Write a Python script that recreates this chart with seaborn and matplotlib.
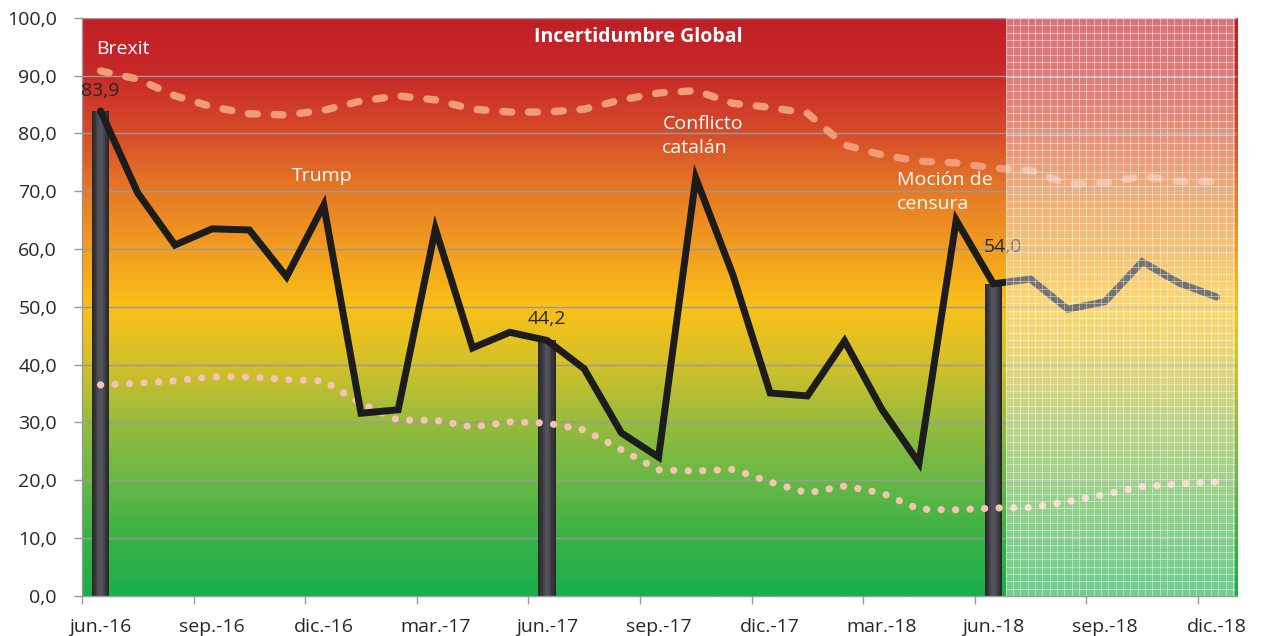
import numpy as np
import seaborn as sns
import matplotlib.pyplot as plt
from matplotlib.colors import LinearSegmentedColormap
from matplotlib.patches import Rectangle
from matplotlib.ticker import FuncFormatter

# Datos (lectura aproximada del gráfico original)
meses = ["jun.-16", "jul.-16", "ago.-16", "sep.-16", "oct.-16", "nov.-16", "dic.-16",
         "ene.-17", "feb.-17", "mar.-17", "abr.-17", "may.-17", "jun.-17", "jul.-17",
         "ago.-17", "sep.-17", "oct.-17", "nov.-17", "dic.-17", "ene.-18", "feb.-18",
         "mar.-18", "abr.-18", "may.-18", "jun.-18", "jul.-18", "ago.-18", "sep.-18",
         "oct.-18", "nov.-18", "dic.-18"]
incertidumbre = [83.9, 69.7, 60.7, 63.5, 63.3, 55.2, 67.6, 31.6, 32.2, 63.5, 42.9,
                 45.6, 44.2, 39.3, 28.2, 24.0, 72.3, 55.5, 35.1, 34.6, 44.1, 32.3,
                 23.0, 65.0, 54.0, 54.8, 49.6, 50.9, 57.8, 54.1, 51.7]
banda_alta = [90.8, 89.4, 86.5, 84.6, 83.4, 83.2, 84.0, 85.6, 86.5, 85.8, 84.2,
              83.7, 83.7, 84.2, 85.8, 87.0, 87.4, 85.2, 84.5, 83.5, 78.0, 76.3,
              75.2, 74.9, 74.0, 73.6, 71.2, 71.4, 72.6, 71.7, 71.7]
banda_baja = [36.5, 36.8, 37.2, 37.9, 37.9, 37.4, 37.2, 33.3, 30.4, 30.4, 29.2,
              30.1, 29.9, 28.7, 25.3, 21.8, 21.6, 21.9, 19.7, 17.8, 19.0, 17.8,
              15.0, 14.9, 15.2, 15.3, 16.3, 17.6, 18.9, 19.4, 19.7]
barras_mes = ["jun.-16", "jun.-17", "jun.-18"]
barras_valor = [83.9, 44.2, 54.0]
eventos = ["Brexit", "Trump", "Conflicto\ncatalán", "Moción de\ncensura"]

sns.set_theme(style="white")
plt.rcParams["font.family"] = ["Open Sans", "DejaVu Sans"]

x = np.arange(len(meses)) + 0.5
pos = {m: i + 0.5 for i, m in enumerate(meses)}
fmt = lambda v: f"{v:.1f}".replace(".", ",")

fig = plt.figure(figsize=(12.61, 6.36), dpi=100)
ax = fig.add_axes([0.065, 0.063, 0.916, 0.909])
xmax = len(meses) + 0.05

# fondo degradado verde -> amarillo -> rojo
cmap = LinearSegmentedColormap.from_list("semaforo", [
    (0.0, "#1aae4b"), (0.1, "#3ab246"), (0.2, "#68b845"), (0.3, "#98bb3c"),
    (0.4, "#d4c02a"), (0.5, "#fac018"), (0.6, "#f19d20"), (0.7, "#e67a26"),
    (0.8, "#d74c2a"), (0.9, "#c72a28"), (1.0, "#c11e26")])
ax.imshow(np.linspace(0, 1, 256).reshape(-1, 1), cmap=cmap, origin="lower",
          extent=[0, xmax, 0, 100], aspect="auto", zorder=0)

for v in range(10, 101, 10):
    ax.axhline(v, color="#9a9a9a", lw=1, zorder=1)

# barras tipo cilindro
bx = [pos[m] for m in barras_mes]
for w, c in [(0.46, "#2a2a2a"), (0.36, "#35353a"), (0.24, "#44444c"), (0.12, "#52525b")]:
    ax.bar(bx, barras_valor, width=w, color=c, zorder=2, linewidth=0)

sns.lineplot(x=x, y=banda_alta, ax=ax, color="#ef9c77", lw=5.3,
             linestyle=(0, (1.2, 2.3)), dash_capstyle="round", zorder=3)
sns.lineplot(x=x, y=banda_baja, ax=ax, color="#f6c4b4", lw=5.2,
             linestyle=(0, (0.01, 2.0)), dash_capstyle="round", zorder=3)
sns.lineplot(x=x, y=incertidumbre, ax=ax, color="#1c1c1c", lw=5,
             solid_joinstyle="miter", solid_capstyle="round", zorder=3)

offs = [(0, 8), (0, 9), (7, 20)]
for bxi, v, o in zip(bx, barras_valor, offs):
    ax.annotate(fmt(v), (bxi, v), xytext=o, textcoords="offset points",
                ha="center", va="bottom", fontsize=14, color="#262626", zorder=4)

# zona de previsión sombreada con rejilla
ax.add_patch(Rectangle((24.83, 0), len(meses) - 24.83, 100, facecolor="white",
                       alpha=0.38, lw=0, zorder=5))
ax.vlines(np.arange(24.83, len(meses), 0.197), 0, 100, color="white", lw=0.7,
          alpha=0.45, zorder=5)
ax.hlines(np.arange(0, 100, 1.265), 24.83, len(meses), color="white", lw=0.7,
          alpha=0.45, zorder=5)

# etiquetas de eventos
ev_xy = [(0.38, 94.6), (5.65, 72.6), (15.6, 79.6), (21.9, 69.9)]
for txt, (ex, ey) in zip(eventos, ev_xy):
    ax.text(ex, ey, txt, color="white", fontsize=14, ha="left", va="center",
            linespacing=1.45, zorder=6)
ax.text(14.95, 96.6, "Incertidumbre Global", color="white", fontsize=14,
        fontweight="bold", ha="center", va="center", zorder=6)

ax.set_xlim(0, xmax)
ax.set_ylim(0, 100)
ax.set_yticks(range(0, 101, 10))
ax.yaxis.set_major_formatter(FuncFormatter(lambda v, p: fmt(v)))
ax.set_xticks(x[::3])
ax.set_xticklabels(meses[::3])
ax.set_xticks(np.arange(0, len(meses), 3), minor=True)
ax.tick_params(axis="x", which="major", length=0, pad=16, labelsize=14, labelcolor="#262626")
ax.tick_params(axis="x", which="minor", length=6, color="#9a9a9a", width=1, bottom=True)
ax.tick_params(axis="y", length=6, color="#9a9a9a", width=1, left=True, pad=12,
               labelsize=14, labelcolor="#262626")
for s in ["top", "right"]:
    ax.spines[s].set_visible(False)
for s in ["left", "bottom"]:
    ax.spines[s].set_color("#9a9a9a")
    ax.spines[s].set_linewidth(1)
ax.grid(False)

fig.savefig("out.png", dpi=100)
